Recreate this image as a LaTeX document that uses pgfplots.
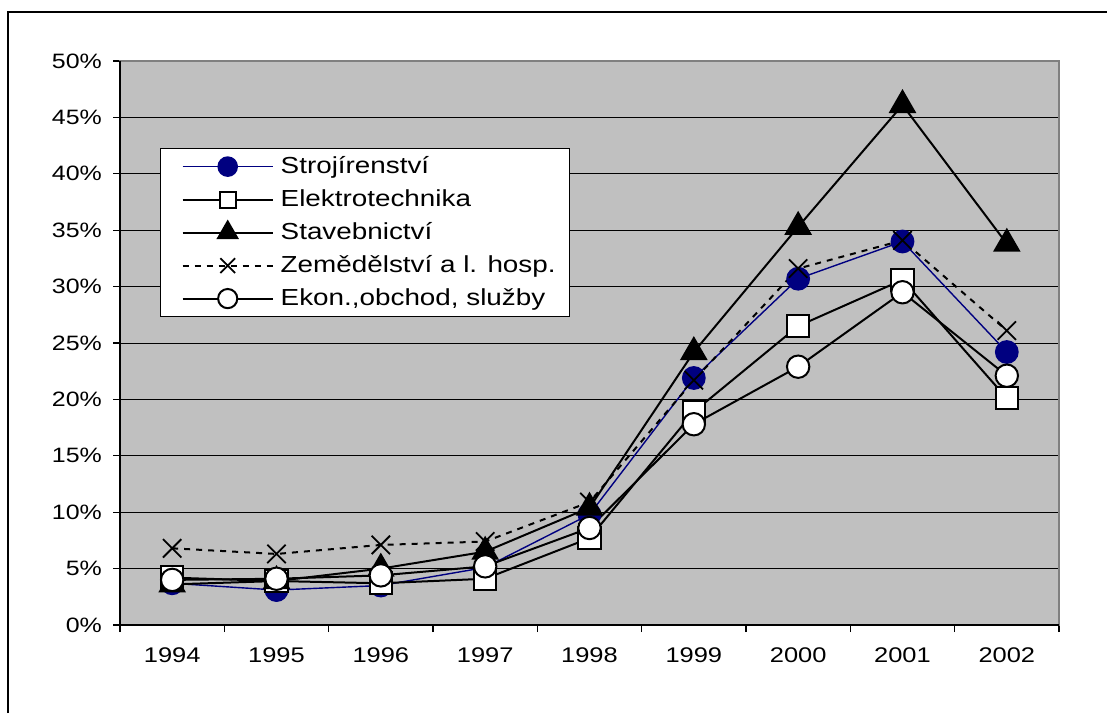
\documentclass[border=0pt]{standalone}
\usepackage{fontspec}
\setmainfont{Liberation Sans}[FakeStretch=1.2]
\usepackage{pgfplots}
\pgfplotsset{compat=1.18}
\definecolor{excelgray}{HTML}{C0C0C0}
\definecolor{navy}{HTML}{000080}
\begin{document}
\begin{tikzpicture}
\useasboundingbox (0,0) rectangle (553.5pt,-356.5pt);
\draw[line width=0.9pt] (4pt,-356.5pt) -- (4pt,-6pt) -- (553.5pt,-6pt);
\begin{axis}[
  at={(60pt,-312.5pt)}, anchor=south west,
  scale only axis, width=469.5pt, height=282pt,
  xmin=-0.5, xmax=8.5, ymin=0, ymax=50,
  xtick={-0.5,0.5,...,8.5},
  x tick label as interval,
  xticklabels={1994,1995,1996,1997,1998,1999,2000,2001,2002},
  ytick={0,5,...,50},
  yticklabel={\pgfmathprintnumber{\tick}\%},
  /pgf/number format/assume math mode=true,
  xtick pos=lower, ytick pos=left,
  tick align=outside, major tick length=3.5pt,
  tick style={black, line width=0.6pt},
  ymajorgrids, grid style={black, line width=0.5pt},
  axis background/.style={fill=excelgray},
  axis line style={draw=gray, line width=1.2pt},
  xticklabel style={font=\fontsize{10.6}{12}\selectfont, yshift=-4.5pt},
  yticklabel style={font=\fontsize{10.4}{12}\selectfont, xshift=-2pt},
  clip=false,
  legend image code/.code={\path (-5.5pt,0pt) (46.5pt,0pt); \draw[mark repeat=2,mark phase=2,#1] plot coordinates {(0pt,0pt) (22.5pt,0pt) (45pt,0pt)};},
  legend style={at={(0.0426,0.846)}, anchor=north west, draw=black, line width=0.7pt, fill=white,
    font=\fontsize{11.6}{13}\selectfont, cells={anchor=west}, inner xsep=5pt, inner ysep=2pt, row sep=2.5pt},
]
\addplot[navy, line width=0.7pt, mark=*, mark size=5.6pt, mark options={fill=navy, draw=navy}, legend image post style={mark size=4.8pt}]
  coordinates {(0,3.7) (1,3.1) (2,3.5) (3,5.1) (4,9.8) (5,21.9) (6,30.7) (7,34.0) (8,24.2)};
\addlegendentry{Strojírenství}
\addplot[black, line width=1pt, mark=square*, mark size=5.6pt, mark options={fill=white, draw=black}, legend image post style={mark size=4pt}]
  coordinates {(0,4.2) (1,3.9) (2,3.7) (3,4.1) (4,7.7) (5,18.9) (6,26.5) (7,30.6) (8,20.1)};
\addlegendentry{Elektrotechnika}
\addplot[black, line width=1pt, mark=triangle*, mark size=7pt, mark options={fill=black}, legend image post style={mark size=5.5pt}]
  coordinates {(0,3.6) (1,3.9) (2,5.0) (3,6.5) (4,10.4) (5,24.2) (6,35.3) (7,46.1) (8,33.8)};
\addlegendentry{Stavebnictví}
\addplot[black, line width=1pt, dash pattern=on 3pt off 3pt, mark=x, mark size=6.5pt, mark options={solid, line width=0.9pt}, legend image post style={mark size=5.2pt}]
  coordinates {(0,6.8) (1,6.3) (2,7.1) (3,7.4) (4,10.9) (5,21.7) (6,31.6) (7,34.1) (8,26.1)};
\addlegendentry{Zemědělství a l. hosp.}
\addplot[black, line width=1pt, mark=*, mark size=5.6pt, mark options={fill=white, draw=black}, legend image post style={mark size=4.8pt}]
  coordinates {(0,4.0) (1,4.1) (2,4.4) (3,5.2) (4,8.6) (5,17.8) (6,22.9) (7,29.5) (8,22.1)};
\addlegendentry{Ekon.,obchod, služby}
\draw[black, line width=0.8pt] (rel axis cs:0,1) -- (rel axis cs:0,0) -- (rel axis cs:1,0);
\end{axis}
\end{tikzpicture}
\end{document}
